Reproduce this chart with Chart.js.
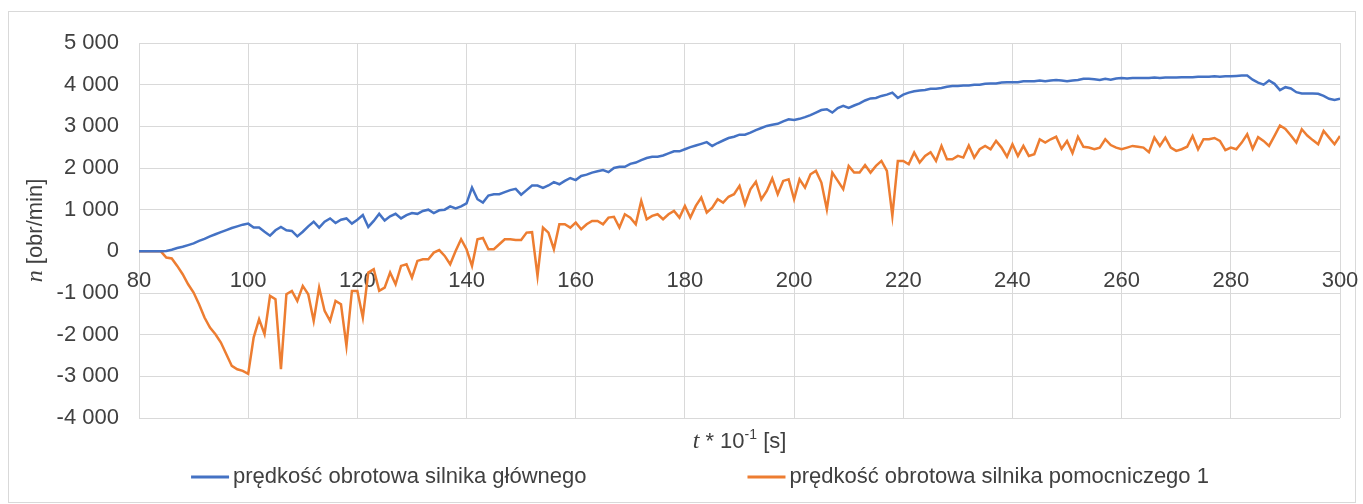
<!DOCTYPE html>
<html lang="pl">

<head>
    <meta charset="UTF-8">
    <title>Prędkość obrotowa silników</title>
    <script src="https://cdn.jsdelivr.net/npm/chart.js"></script>
    <style>
        body { margin: 0; background: #fff; }
        #wrap { width: 1363px; height: 504px; }
    </style>
</head>

<body>
    <div id="wrap"><canvas id="speedChart" width="1363" height="504"></canvas></div>

    <script>
        // time axis, t * 10^-1 [s]
        const timeLabels = [
            80, 81, 82, 83, 84, 85, 86, 87, 88, 89,
            90, 91, 92, 93, 94, 95, 96, 97, 98, 99,
            100, 101, 102, 103, 104, 105, 106, 107, 108, 109,
            110, 111, 112, 113, 114, 115, 116, 117, 118, 119,
            120, 121, 122, 123, 124, 125, 126, 127, 128, 129,
            130, 131, 132, 133, 134, 135, 136, 137, 138, 139,
            140, 141, 142, 143, 144, 145, 146, 147, 148, 149,
            150, 151, 152, 153, 154, 155, 156, 157, 158, 159,
            160, 161, 162, 163, 164, 165, 166, 167, 168, 169,
            170, 171, 172, 173, 174, 175, 176, 177, 178, 179,
            180, 181, 182, 183, 184, 185, 186, 187, 188, 189,
            190, 191, 192, 193, 194, 195, 196, 197, 198, 199,
            200, 201, 202, 203, 204, 205, 206, 207, 208, 209,
            210, 211, 212, 213, 214, 215, 216, 217, 218, 219,
            220, 221, 222, 223, 224, 225, 226, 227, 228, 229,
            230, 231, 232, 233, 234, 235, 236, 237, 238, 239,
            240, 241, 242, 243, 244, 245, 246, 247, 248, 249,
            250, 251, 252, 253, 254, 255, 256, 257, 258, 259,
            260, 261, 262, 263, 264, 265, 266, 267, 268, 269,
            270, 271, 272, 273, 274, 275, 276, 277, 278, 279,
            280, 281, 282, 283, 284, 285, 286, 287, 288, 289,
            290, 291, 292, 293, 294, 295, 296, 297, 298, 299,
            300
        ];

        // n [obr/min] - main engine
        const mainSpeed = [
            0, 0, 0, 0, 0, 10, 40, 80, 110, 150,
            190, 250, 300, 360, 410, 460, 510, 560, 600, 640,
            665, 570, 570, 470, 375, 505, 585, 505, 490, 360,
            470, 600, 710, 570, 710, 790, 680, 760, 790, 665,
            760, 870, 585, 730, 900, 740, 840, 900, 790, 870,
            920, 900, 970, 1000, 920, 985, 1000, 1080, 1030, 1080,
            1150, 1530, 1250, 1170, 1340, 1370, 1370, 1420, 1470, 1500,
            1360, 1470, 1580, 1580, 1520, 1580, 1660, 1610, 1690, 1760,
            1710, 1810, 1840, 1890, 1920, 1950, 1900, 2000, 2030, 2030,
            2100, 2130, 2190, 2240, 2270, 2270, 2300, 2350, 2400, 2400,
            2450, 2500, 2540, 2580, 2620, 2530, 2600, 2660, 2720, 2750,
            2800, 2800, 2850, 2910, 2960, 3010, 3040, 3060, 3120, 3170,
            3150, 3180, 3220, 3270, 3330, 3390, 3410, 3330, 3440, 3490,
            3440, 3500, 3550, 3620, 3670, 3680, 3730, 3760, 3810, 3680,
            3760, 3810, 3840, 3860, 3870, 3900, 3900, 3920, 3950, 3970,
            3970, 3980, 3980, 4000, 4000, 4020, 4030, 4030, 4050, 4060,
            4060, 4060, 4080, 4080, 4080, 4100, 4080, 4100, 4110, 4100,
            4080, 4100, 4110, 4140, 4140, 4130, 4110, 4140, 4120, 4150,
            4160, 4150, 4160, 4160, 4160, 4160, 4170, 4160, 4170, 4170,
            4170, 4180, 4180, 4180, 4190, 4190, 4190, 4200, 4190, 4200,
            4200, 4210, 4220, 4220, 4120, 4050, 4000, 4100, 4020, 3870,
            3940, 3910, 3820, 3790, 3790, 3790, 3780, 3730, 3660, 3630,
            3660
        ];

        // n [obr/min] - auxiliary engine 1
        const auxSpeed = [
            0, 0, 0, 0, 0, -150, -170, -350, -550, -790,
            -990, -1270, -1590, -1830, -1990, -2190, -2470, -2750, -2830, -2870,
            -2940, -2070, -1630, -1990, -1070, -1150, -2830, -1030, -950, -1190,
            -830, -1030, -1670, -870, -1430, -1670, -1190, -1270, -2270, -950,
            -950, -1590, -510, -430, -950, -870, -510, -790, -350, -310,
            -630, -230, -190, -190, -30, 30, -110, -310, 10, 290,
            50, -350, 290, 320, 50, 50, 170, 290, 290, 270,
            270, 450, 460, -590, 570, 450, 50, 650, 650, 570,
            690, 530, 650, 730, 730, 650, 810, 830, 570, 890,
            810, 650, 1210, 770, 850, 890, 770, 890, 970, 810,
            1090, 810, 1090, 1290, 930, 1050, 1250, 1170, 1310, 1370,
            1570, 1130, 1490, 1670, 1250, 1450, 1750, 1370, 1690, 1730,
            1250, 1730, 1530, 1850, 1930, 1650, 1010, 1890, 1690, 1490,
            2050, 1890, 1890, 2070, 1890, 2050, 2170, 1930, 850, 2170,
            2170, 2090, 2370, 2130, 2290, 2380, 2170, 2530, 2210, 2210,
            2290, 2250, 2540, 2250, 2450, 2530, 2450, 2650, 2490, 2270,
            2570, 2290, 2530, 2290, 2330, 2690, 2610, 2690, 2750, 2460,
            2650, 2360, 2750, 2510, 2490, 2450, 2490, 2690, 2550, 2490,
            2450, 2490, 2530, 2510, 2490, 2380, 2730, 2530, 2730, 2490,
            2410, 2450, 2510, 2770, 2450, 2690, 2690, 2720, 2650, 2430,
            2490, 2450, 2610, 2810, 2460, 2740, 2650, 2530, 2770, 3020,
            2940, 2780, 2610, 2930, 2780, 2670, 2570, 2890, 2730, 2570,
            2770
        ];

        const seriesNames = [
            'prędkość obrotowa silnika głównego',
            'prędkość obrotowa silnika pomocniczego 1'
        ];
        const seriesColors = ['#4472C4', '#ED7D31'];

        const textColor = '#404040';
        const gridColor = '#d9d9d9';
        const sansFont = '"Liberation Sans", Arial, sans-serif';

        // y ticks like "-1 000"
        function formatThousands(v) {
            return String(v).replace(/\B(?=(\d{3})+(?!\d))/g, ' ');
        }

        // draws a run of text pieces (each with own font / raise) centred at x
        function drawPieces(ctx, pieces, cx, cy) {
            let total = 0;
            pieces.forEach(p => {
                ctx.font = p.font;
                p.w = ctx.measureText(p.text).width;
                total += p.w;
            });
            let x = cx - total / 2;
            pieces.forEach(p => {
                ctx.font = p.font;
                ctx.fillText(p.text, x, cy - (p.raise || 0));
                x += p.w;
            });
        }

        // frame, axis titles and legend
        const chartText = {
            id: 'chartText',
            beforeDraw(chart) {
                const ctx = chart.ctx;
                ctx.save();
                ctx.strokeStyle = gridColor;
                ctx.lineWidth = 1;
                ctx.strokeRect(8.5, 11.5, 1347, 491);
                ctx.restore();
            },
            afterDraw(chart) {
                const ctx = chart.ctx;
                const area = chart.chartArea;
                ctx.save();
                ctx.fillStyle = textColor;
                ctx.textAlign = 'left';
                ctx.textBaseline = 'middle';

                // y axis title
                ctx.save();
                ctx.translate(36, (area.top + area.bottom) / 2);
                ctx.rotate(-Math.PI / 2);
                drawPieces(ctx, [
                    { text: 'n', font: 'italic 24px "Liberation Serif", serif' },
                    { text: ' [obr/min]', font: '22px ' + sansFont }
                ], 0, 0);
                ctx.restore();

                // x axis title
                drawPieces(ctx, [
                    { text: 't', font: 'italic 24px "Liberation Serif", serif' },
                    { text: ' * 10', font: '22px ' + sansFont },
                    { text: '-1', font: '14px ' + sansFont, raise: 7 },
                    { text: ' [s]', font: '22px ' + sansFont }
                ], (area.left + area.right) / 2, 442);

                // legend
                const lineLen = 38, lineGap = 4, itemGap = 161, legendY = 477;
                ctx.font = '22px ' + sansFont;
                const widths = seriesNames.map(s => ctx.measureText(s).width);
                const total = widths.reduce((a, w) => a + w + lineLen + lineGap, 0) + itemGap;
                let x = 700 - total / 2;
                seriesNames.forEach((name, i) => {
                    ctx.strokeStyle = seriesColors[i];
                    ctx.lineWidth = 3;
                    ctx.beginPath();
                    ctx.moveTo(x, legendY);
                    ctx.lineTo(x + lineLen, legendY);
                    ctx.stroke();
                    x += lineLen + lineGap;
                    ctx.fillText(name, x, legendY);
                    x += widths[i] + itemGap;
                });
                ctx.restore();
            }
        };

        const ctx = document.getElementById('speedChart').getContext('2d');
        const speedChart = new Chart(ctx, {
            type: 'line',
            data: {
                labels: timeLabels,
                datasets: [
                    {
                        label: seriesNames[0],
                        data: mainSpeed,
                        borderColor: seriesColors[0],
                        backgroundColor: seriesColors[0]
                    },
                    {
                        label: seriesNames[1],
                        data: auxSpeed,
                        borderColor: seriesColors[1],
                        backgroundColor: seriesColors[1]
                    }
                ]
            },
            options: {
                responsive: false,
                animation: false,
                layout: { padding: { left: 0, right: 23, top: 43, bottom: 86 } },
                elements: {
                    point: { radius: 0 },
                    line: { borderWidth: 2.5, tension: 0 }
                },
                plugins: {
                    legend: { display: false },
                    tooltip: { enabled: false }
                },
                scales: {
                    x: {
                        type: 'linear',
                        position: { y: 0 },
                        min: 80,
                        max: 300,
                        ticks: {
                            stepSize: 20,
                            padding: 16,
                            maxRotation: 0,
                            color: textColor,
                            font: { family: sansFont, size: 22 }
                        },
                        grid: { color: gridColor, drawTicks: false },
                        border: { color: gridColor },
                        // labels may hang over the edges, keep the plot area fixed
                        afterFit: scale => { scale.paddingLeft = 0; scale.paddingRight = 0; }
                    },
                    y: {
                        min: -4000,
                        max: 5000,
                        ticks: {
                            stepSize: 1000,
                            padding: 20,
                            color: textColor,
                            font: { family: sansFont, size: 22 },
                            callback: v => formatThousands(v)
                        },
                        grid: { color: gridColor, drawTicks: false },
                        border: { color: gridColor },
                        afterFit: scale => { scale.width = 139; }
                    }
                }
            },
            plugins: [chartText]
        });
    </script>
</body>

</html>
